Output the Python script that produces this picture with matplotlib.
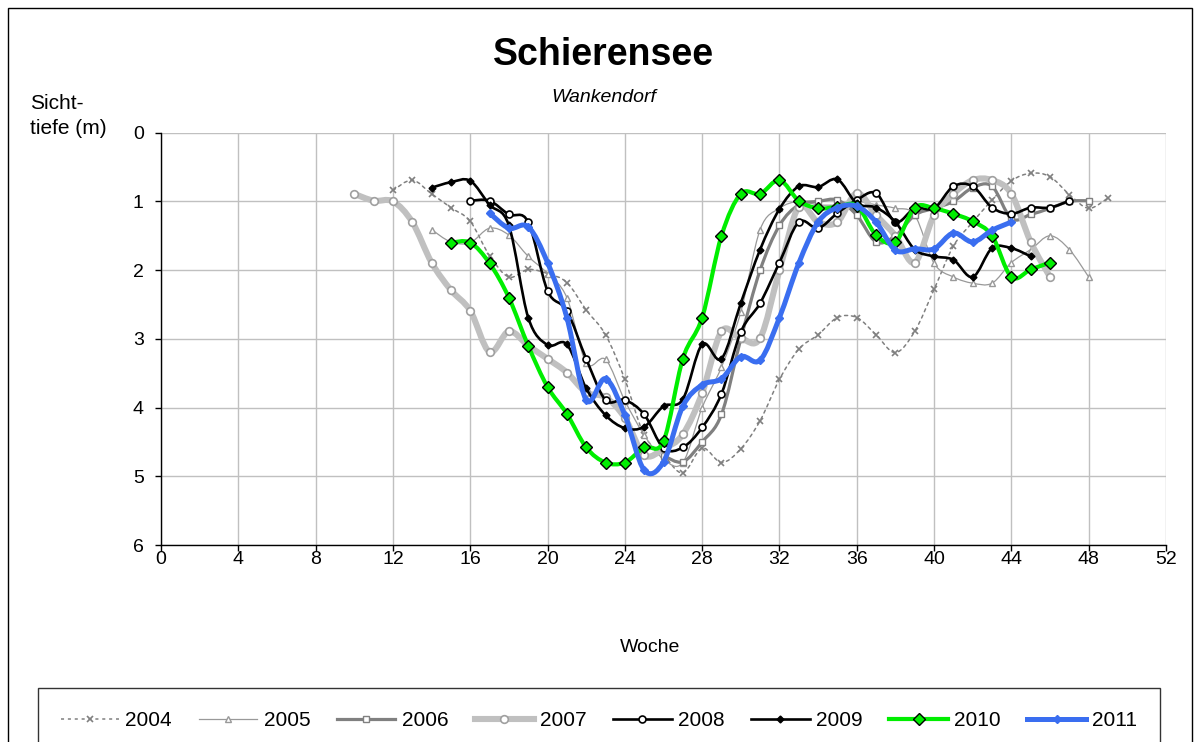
import numpy as np
import matplotlib
matplotlib.use("Agg")
import matplotlib.pyplot as plt
from matplotlib.path import Path
from matplotlib.patches import PathPatch, Rectangle
from matplotlib.lines import Line2D

plt.rcParams['font.family'] = ['Liberation Sans', 'DejaVu Sans']

# ---------------- data ----------------
weeks_2004 = list(range(12, 50))
depth_2004 = [0.84, 0.69, 0.89, 1.09, 1.29, 1.79, 2.10, 1.99, 2.05, 2.18, 2.58, 2.94, 3.59,
              4.40, 4.69, 4.95, 4.59, 4.80, 4.60, 4.19, 3.59, 3.15, 2.94, 2.69, 2.69, 2.94,
              3.20, 2.89, 2.28, 1.65, 1.30, 0.98, 0.70, 0.59, 0.64, 0.90, 1.10, 0.95]

weeks_2005 = list(range(14, 49))
depth_2005 = [1.41, 1.59, 1.60, 1.39, 1.49, 1.80, 2.05, 2.40, 3.35, 3.30, 3.90, 4.40, 4.75,
              4.80, 4.00, 3.41, 2.61, 1.41, 1.10, 1.00, 1.05, 1.05, 1.00, 1.05, 1.10, 1.20,
              1.90, 2.10, 2.19, 2.19, 1.89, 1.70, 1.50, 1.70, 2.10]

weeks_2006 = list(range(26, 49))
depth_2006 = [4.70, 4.79, 4.50, 4.10, 3.00, 2.00, 1.35, 1.05, 1.00, 0.98, 1.20, 1.59, 1.50,
              1.20, 1.10, 1.00, 0.80, 0.78, 1.25, 1.19, 1.10, 1.00, 0.99]

weeks_2007 = list(range(10, 47))
depth_2007 = [0.89, 0.99, 1.00, 1.30, 1.89, 2.29, 2.59, 3.19, 2.89, 3.10, 3.29, 3.49, 3.78,
              3.85, 4.15, 4.69, 4.60, 4.39, 3.79, 2.89, 2.99, 2.99, 2.00, 1.08, 1.30, 1.30,
              0.88, 1.20, 1.50, 1.89, 1.20, 0.89, 0.69, 0.69, 0.89, 1.59, 2.10]

weeks_2008 = list(range(16, 48))
depth_2008 = [0.99, 0.99, 1.19, 1.30, 2.30, 2.59, 3.29, 3.89, 3.89, 4.10, 4.59, 4.58, 4.29,
              3.80, 2.90, 2.48, 1.89, 1.30, 1.39, 1.17, 0.98, 0.88, 1.30, 1.10, 1.10, 0.78,
              0.78, 1.09, 1.18, 1.09, 1.09, 0.99]

weeks_2009 = list(range(14, 46))
depth_2009 = [0.80, 0.72, 0.70, 1.05, 1.35, 2.69, 3.09, 3.08, 3.72, 4.11, 4.30, 4.28, 3.98,
              3.88, 3.08, 3.29, 2.48, 1.70, 1.11, 0.78, 0.79, 0.68, 1.03, 1.09, 1.30, 1.70,
              1.80, 1.85, 2.10, 1.68, 1.68, 1.80]

weeks_2010 = list(range(15, 47))
depth_2010 = [1.60, 1.60, 1.90, 2.40, 3.10, 3.70, 4.09, 4.58, 4.80, 4.80, 4.58, 4.49, 3.29,
              2.69, 1.50, 0.89, 0.89, 0.69, 0.99, 1.10, 1.08, 1.06, 1.49, 1.59, 1.09, 1.10,
              1.18, 1.29, 1.50, 2.10, 1.99, 1.89]

weeks_2011 = list(range(17, 45))
depth_2011 = [1.17, 1.39, 1.37, 1.89, 2.69, 3.89, 3.58, 4.11, 4.91, 4.79, 3.98, 3.67, 3.58,
              3.26, 3.31, 2.69, 1.90, 1.30, 1.09, 1.07, 1.30, 1.71, 1.69, 1.69, 1.46, 1.59,
              1.42, 1.30]

years = ["2004", "2005", "2006", "2007", "2008", "2009", "2010", "2011"]
xticks = list(range(0, 53, 4))
yticks = list(range(0, 7))

series = [
    (weeks_2004, depth_2004),
    (weeks_2005, depth_2005),
    (weeks_2006, depth_2006),
    (weeks_2007, depth_2007),
    (weeks_2008, depth_2008),
    (weeks_2009, depth_2009),
    (weeks_2010, depth_2010),
    (weeks_2011, depth_2011),
]

styles = [
    dict(color='#808080', lw=1.1, ls=(0, (2.0, 2.5)), marker='x', ms=4, mfc='#808080', mec='#808080', mew=1.2),
    dict(color='#999999', lw=0.9, ls='-', marker='^', ms=5, mfc='white', mec='#999999', mew=1.0),
    dict(color='#808080', lw=2.3, ls='-', marker='s', ms=4.5, mfc='white', mec='#808080', mew=1.0),
    dict(color='#C0C0C0', lw=4.4, ls='-', marker='o', ms=5.5, mfc='white', mec='#A0A0A0', mew=1.2),
    dict(color='#000000', lw=1.9, ls='-', marker='o', ms=5, mfc='white', mec='#000000', mew=1.2),
    dict(color='#000000', lw=1.9, ls='-', marker='D', ms=3.5, mfc='#000000', mec='#000000', mew=1.0),
    dict(color='#00EE00', lw=3.0, ls='-', marker='D', ms=6, mfc='#00EE00', mec='#000000', mew=1.0),
    dict(color='#3A6EF0', lw=3.6, ls='-', marker='D', ms=4.5, mfc='#3A6EF0', mec='#3A6EF0', mew=1.0),
]


def smooth_path(x, y):
    pts = np.column_stack([np.asarray(x, float), np.asarray(y, float)])
    n = len(pts)
    verts = [tuple(pts[0])]
    codes = [Path.MOVETO]
    for i in range(n - 1):
        p0 = pts[i - 1] if i > 0 else pts[i]
        p1 = pts[i]
        p2 = pts[i + 1]
        p3 = pts[i + 2] if i + 2 < n else pts[i + 1]
        c1 = p1 + (p2 - p0) / 6.0
        c2 = p2 - (p3 - p1) / 6.0
        verts += [tuple(c1), tuple(c2), tuple(p2)]
        codes += [Path.CURVE4] * 3
    return Path(verts, codes)


fig = plt.figure(figsize=(12, 7.42), dpi=100)
ax = fig.add_axes([161 / 1200, 1 - 545 / 742, (1166 - 161) / 1200, (545 - 132.7) / 742])

handles = []
for i, ((wx, dy), st) in enumerate(zip(series, styles)):
    path = smooth_path(wx, dy)
    patch = PathPatch(path, fill=False, edgecolor=st['color'], lw=st['lw'],
                      linestyle=st['ls'], capstyle='round', joinstyle='round',
                      zorder=3 + i)
    ax.add_patch(patch)
    ax.plot(wx, dy, linestyle='none', marker=st['marker'], ms=st['ms'],
            mfc=st['mfc'], mec=st['mec'], mew=st['mew'], zorder=3.5 + i)
    handles.append(Line2D([], [], color=st['color'], lw=st['lw'], linestyle=st['ls'],
                          marker=st['marker'], ms=st['ms'], mfc=st['mfc'],
                          mec=st['mec'], mew=st['mew']))

ax.set_xlim(0, 52)
ax.set_ylim(6, 0)
ax.set_xticks(xticks)
ax.set_yticks(yticks)
ax.grid(True, color='#C0C0C0', lw=1.0, zorder=0)
ax.set_axisbelow(True)
for s in ['top', 'right']:
    ax.spines[s].set_visible(False)
for s in ['left', 'bottom']:
    ax.spines[s].set_color('black')
    ax.spines[s].set_linewidth(1.0)
    ax.spines[s].set_zorder(20)
ax.tick_params(axis='y', direction='out', length=4.5, width=1, pad=8, labelsize=14)
ax.tick_params(axis='x', direction='out', length=4.5, width=1, pad=-0.5, labelsize=14)

fig.text(604 / 1200, 1 - 55 / 742, "Schierensee", ha='center', va='center',
         fontsize=27, fontweight='bold')
fig.text(604 / 1200, 1 - 97 / 742, "Wankendorf", ha='center', va='center',
         fontsize=14, style='italic')
fig.text(30 / 1200, 1 - 116 / 742, "Sicht-\ntiefe (m)", ha='left', va='center',
         fontsize=15, linespacing=1.35)
fig.text(650 / 1200, 1 - 647 / 742, "Woche", ha='center', va='center', fontsize=14)

# outer chart frame
fig.patches.append(Rectangle((8 / 1200, -0.2), (1192 - 8) / 1200, 1.2 - 8 / 742,
                             transform=fig.transFigure, fill=False, edgecolor='black',
                             lw=1.0))

leg = fig.legend(handles, years, ncol=8, loc='upper left',
                 bbox_to_anchor=(38 / 1200, 1 - 688 / 742, (1160 - 38) / 1200, 0),
                 mode='expand', frameon=True, fancybox=False, fontsize=15,
                 handlelength=2.8, handletextpad=0.3, borderpad=1.1,
                 borderaxespad=0)
leg.get_frame().set_edgecolor('black')
leg.get_frame().set_linewidth(1.0)

fig.savefig("out.png", dpi=100)
